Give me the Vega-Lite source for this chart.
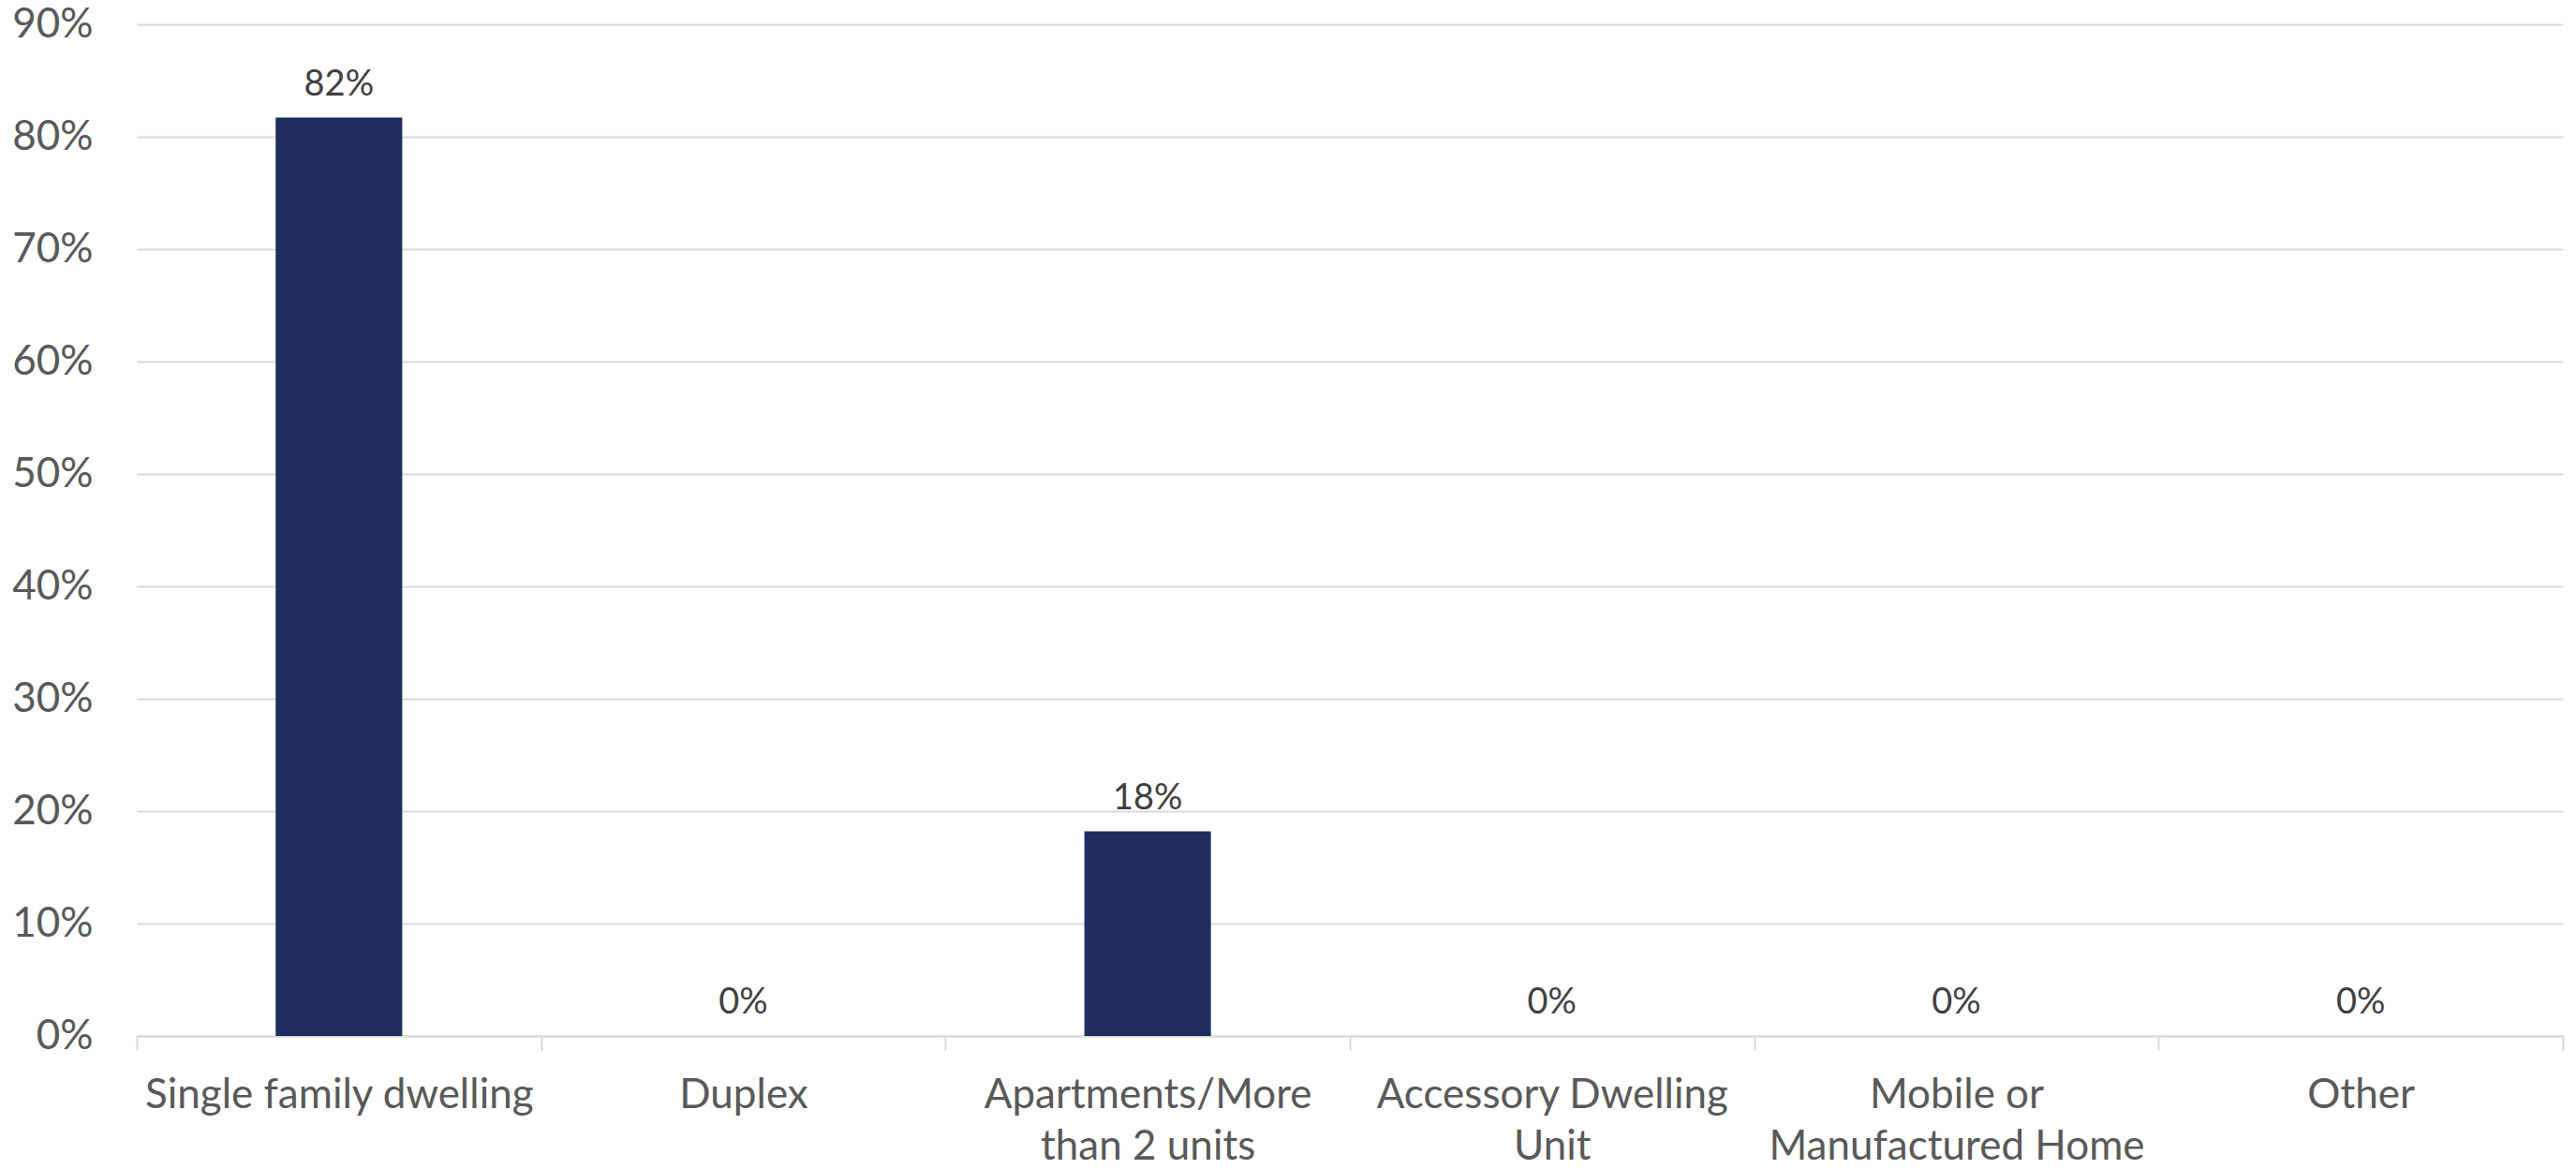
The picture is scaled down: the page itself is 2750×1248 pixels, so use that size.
{
  "$schema": "https://vega.github.io/schema/vega-lite/v6.json",
  "autosize": "none",
  "width": 2590,
  "height": 1080,
  "padding": {"left": 146, "top": 26, "right": 14, "bottom": 142},
  "background": "white",
  "config": {"view": {"stroke": null}, "font": "Lato"},
  "data": {
    "values": [
      {"type": "Single family dwelling", "share": 0.817},
      {"type": "Duplex", "share": 0},
      {"type": "Apartments/More than 2 units", "share": 0.182},
      {"type": "Accessory Dwelling Unit", "share": 0},
      {"type": "Mobile or Manufactured Home", "share": 0},
      {"type": "Other", "share": 0}
    ]
  },
  "encoding": {
    "x": {
      "field": "type",
      "type": "nominal",
      "sort": null,
      "scale": {"paddingInner": 0, "paddingOuter": 0},
      "axis": {
        "title": null,
        "labelAngle": 0,
        "labelFont": "Lato",
        "labelFontSize": 44,
        "labelColor": "#595959",
        "labelBaseline": "alphabetic",
        "labelPadding": 61,
        "labelLineHeight": 55,
        "labelLimit": 0,
        "tickBand": "extent",
        "tickSize": 15,
        "tickColor": "#D9D9D9",
        "tickWidth": 2,
        "domainColor": "#D9D9D9",
        "domainWidth": 2,
        "grid": false,
        "labelExpr": "datum.value == 'Apartments/More than 2 units' ? ['Apartments/More', 'than 2 units'] : datum.value == 'Accessory Dwelling Unit' ? ['Accessory Dwelling', 'Unit'] : datum.value == 'Mobile or Manufactured Home' ? ['Mobile or', 'Manufactured Home'] : datum.value"
      }
    },
    "y": {
      "field": "share",
      "type": "quantitative",
      "scale": {"domain": [0, 0.9], "nice": false},
      "axis": {
        "title": null,
        "format": ".0%",
        "values": [0, 0.1, 0.2, 0.3, 0.4, 0.5, 0.6, 0.7, 0.8, 0.9],
        "domain": false,
        "ticks": false,
        "grid": true,
        "gridColor": "#D9D9D9",
        "gridWidth": 2,
        "labelFont": "Lato",
        "labelFontSize": 44,
        "labelColor": "#595959",
        "labelPadding": 47
      }
    }
  },
  "layer": [
    {
      "mark": {"type": "bar", "color": "#1F2E5E", "width": {"band": 0.313}}
    },
    {
      "mark": {"type": "text", "font": "Lato", "fontSize": 38, "color": "#404040", "baseline": "alphabetic", "dy": -24},
      "encoding": {
        "text": {"field": "share", "type": "quantitative", "format": ".0%"}
      }
    }
  ]
}
